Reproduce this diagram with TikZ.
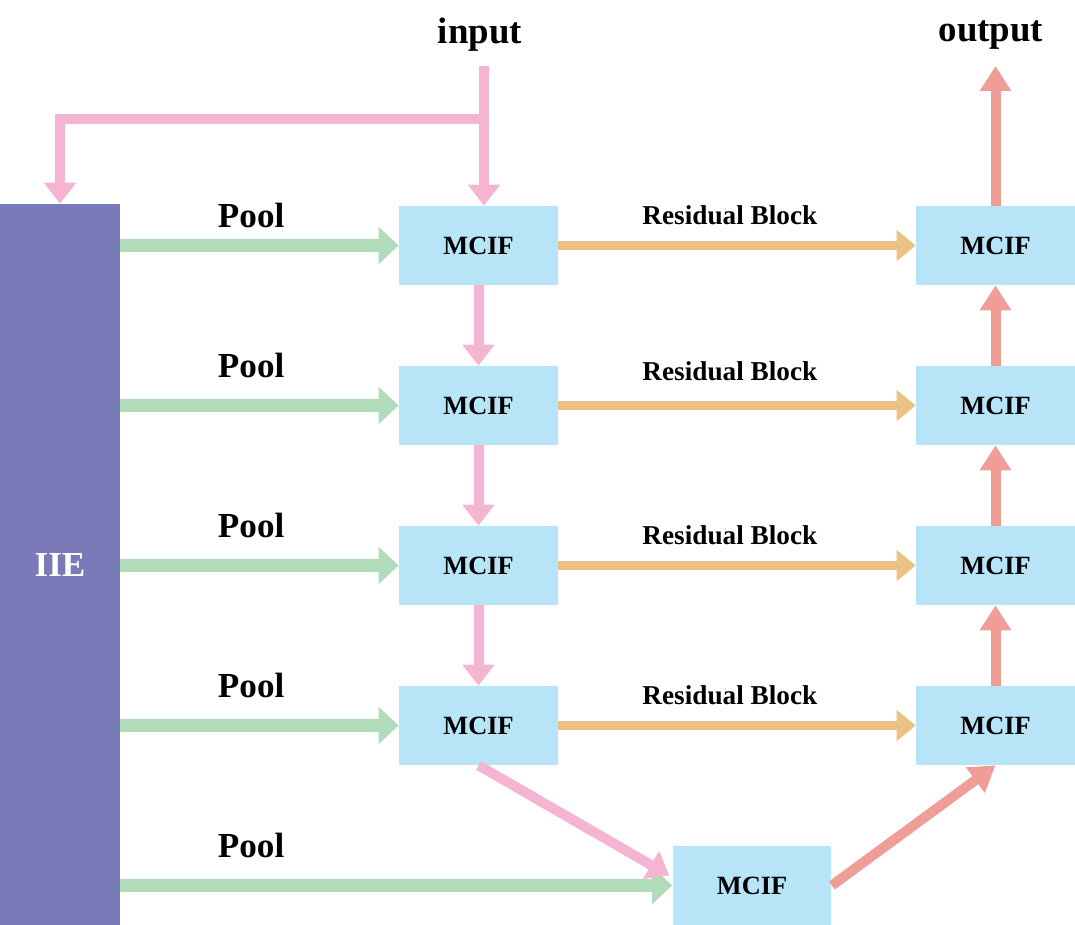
\documentclass[tikz,border=0pt]{standalone}
\usepackage{fontspec}
\setmainfont{Liberation Serif}
\usepackage{xcolor}
\usetikzlibrary{arrows.meta, positioning, calc}
\definecolor{iiepurple}{HTML}{7B7AB9}
\definecolor{boxblue}{HTML}{B8E4F8}
\definecolor{poolgreen}{HTML}{B2DBB9}
\definecolor{flowpink}{HTML}{F5B5D2}
\definecolor{resorange}{HTML}{EDC084}
\definecolor{upsalmon}{HTML}{EE9E96}

\begin{document}
\begin{tikzpicture}[x=0.02cm, y=-0.02cm,
    mcif/.style={fill=boxblue, minimum width=3.18cm, minimum height=1.58cm, inner sep=0pt,
      font=\fontsize{15}{18}\selectfont\bfseries},
    iiebox/.style={fill=iiepurple, minimum width=2.4cm, minimum height=14.42cm, inner sep=0pt,
      text=white, font=\fontsize{20}{24}\selectfont\bfseries},
    title/.style={font=\fontsize{21}{25}\selectfont\bfseries},
    poollbl/.style={font=\fontsize{20}{24}\selectfont\bfseries},
    reslbl/.style={font=\fontsize{15.5}{18}\selectfont\bfseries},
    pool/.style={draw=poolgreen, line width=0.25cm, -{Triangle[length=0.4cm, width=0.72cm]}},
    pinkarrow/.style={draw=flowpink, line width=0.2cm, -{Triangle[length=0.42cm, width=0.62cm]}},
    resarrow/.style={draw=resorange, line width=0.19cm, -{Triangle[length=0.38cm, width=0.6cm]}},
    redarrow/.style={draw=upsalmon, line width=0.2cm, -{Triangle[length=0.5cm, width=0.6cm]}}]

    \useasboundingbox (0,0) rectangle (1075,925);

    \node[iiebox] (iie) at (60,564.5) {IIE};
    \foreach \i/\y in {1/245.5, 2/405.5, 3/565.5, 4/725.5} {
      \node[mcif] (m\i) at (478.5,\y) {MCIF};
      \node[mcif] (r\i) at (995.5,\y) {MCIF};
    }
    \node[mcif] (mb) at (752,885.5) {MCIF};

    \node[title] (inputlbl) at (480,35) {input};
    \node[title] (outputlbl) at (991,35) {output};
    \coordinate (in) at (484,66);
    \coordinate (split) at (484,119);
    \coordinate (out) at (995.5,66);

    \draw[pinkarrow] (in) -- (in |- m1.north);
    \draw[pinkarrow] (split) -| (iie.north);

    \foreach \i/\d in {1/3pt, 2/9pt, 3/9pt, 4/9pt}
      \draw[pool] (iie.east |- m\i) -- (m\i.west) node[poollbl, pos=0.47, above=\d] (pool\i) {Pool};
    \draw[pool] (iie.east |- mb) -- (mb.west) node[poollbl, pos=0.237, above=9pt] (pool5) {Pool};

    \foreach \i/\d in {1/5.5pt, 2/8pt, 3/5.5pt, 4/5.5pt}
      \draw[resarrow] (m\i.east) -- (r\i.west) node[reslbl, pos=0.48, above=\d] (res\i) {Residual Block};

    \foreach \i/\j in {1/2, 2/3, 3/4}
      \draw[pinkarrow] (m\i.south) -- (m\j.north);
    \foreach \i/\j in {2/1, 3/2, 4/3}
      \draw[redarrow] (r\i.north) -- (r\j.south);
    \draw[redarrow] (r1.north) -- (out);

    \draw[pinkarrow] (m4.south) -- ($(mb.west)+(-3,-10)$);
    \draw[redarrow] (mb.east) -- (r4.south);
  \end{tikzpicture}
\end{document}
